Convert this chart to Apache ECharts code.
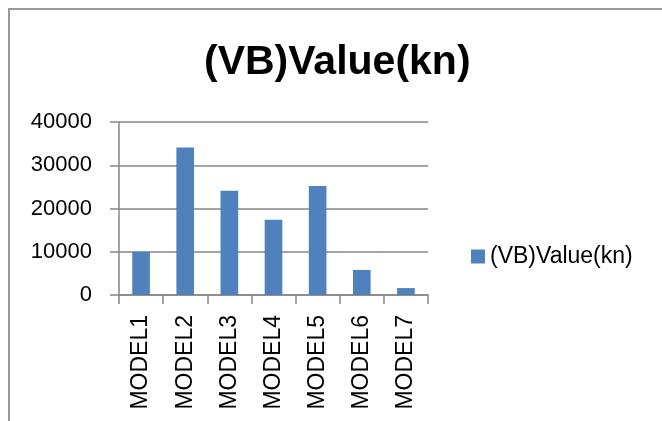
<!DOCTYPE html>
<html lang="en">
<head>
    <meta charset="UTF-8">
    <title>(VB)Value(kn)</title>
    <script src="https://cdn.jsdelivr.net/npm/echarts@6/dist/echarts.min.js"></script>
    <style>
        html, body { margin: 0; padding: 0; background: #fff; }
    </style>
</head>
<body>
    <div id="main" style="width:662px;height:421px;"></div>
</body>
<script type="text/javascript">
    // data
    var models = ['MODEL1', 'MODEL2', 'MODEL3', 'MODEL4', 'MODEL5', 'MODEL6', 'MODEL7'];
    var vbValue = [10000, 34100, 24100, 17400, 25200, 5800, 1600];
    var yTicks = [0, 10000, 20000, 30000, 40000];

    var seriesName = '(VB)Value(kn)';
    var lineGray = '#868686';
    var font = "'Liberation Sans', Arial, sans-serif";

    var myChart = echarts.init(document.getElementById('main'));

    option = {
        animation: false,
        title: {
            text: seriesName,
            left: 204,
            top: 42,
            padding: 0,
            textStyle: {
                fontFamily: font,
                fontSize: 41,
                fontWeight: 'bold',
                color: '#000'
            }
        },
        legend: {
            data: [seriesName],
            orient: 'vertical',
            left: 471,
            top: 245,
            padding: 0,
            icon: 'rect',
            itemWidth: 14,
            itemHeight: 14,
            textStyle: {
                fontFamily: font,
                fontSize: 23,
                color: '#000'
            }
        },
        graphic: [
            { // outer chart border (only top/left visible)
                type: 'rect',
                shape: { x: 9, y: 9, width: 700, height: 500 },
                style: { fill: 'none', stroke: '#999', lineWidth: 2 },
                silent: true
            }
        ],
        grid: {
            left: 119,
            top: 122,
            width: 309,
            height: 173
        },
        xAxis: {
            type: 'category',
            data: models,
            axisLine: { show: true, lineStyle: { color: lineGray, width: 1.5 } },
            axisTick: { show: true, length: 9, lineStyle: { color: lineGray, width: 1.5 } },
            axisLabel: {
                rotate: 90,
                margin: 20,
                fontFamily: font,
                fontSize: 23,
                color: '#000'
            }
        },
        yAxis: {
            type: 'value',
            min: yTicks[0],
            max: yTicks[yTicks.length - 1],
            interval: yTicks[1] - yTicks[0],
            axisLine: { show: true, lineStyle: { color: lineGray, width: 1.5 } },
            axisTick: { show: true, length: 9, lineStyle: { color: lineGray, width: 1.5 } },
            splitLine: { show: true, lineStyle: { color: lineGray, width: 1.5 } },
            axisLabel: {
                margin: 27,
                fontFamily: font,
                fontSize: 22,
                color: '#000',
                formatter: function (v) { return String(v); }
            }
        },
        series: [
            {
                name: seriesName,
                type: 'bar',
                barCategoryGap: '60%',
                itemStyle: { color: '#4f81bd' },
                data: vbValue
            }
        ]
    };

    myChart.setOption(option);
</script>
</html>
